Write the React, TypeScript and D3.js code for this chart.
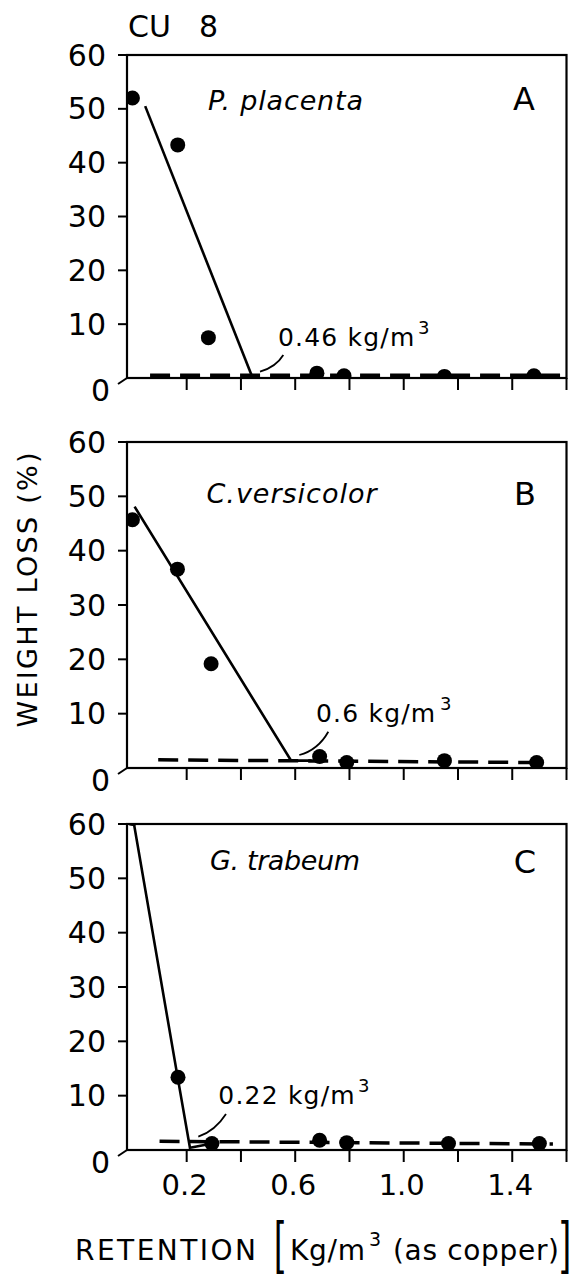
import React from 'react';
import * as d3 from 'd3';

// ---------- data ----------
const panelIds = ['A', 'B', 'C'];
const speciesNames = ['P. placenta', 'C.versicolor', 'G. trabeum'];
const thresholdLabels = ['0.46 kg/m', '0.6 kg/m', '0.22 kg/m'];

const yTicks = [0, 10, 20, 30, 40, 50, 60];
const xTicks = [0.2, 0.4, 0.6, 0.8, 1.0, 1.2, 1.4, 1.6];
const xTickLabelValues = [0.2, 0.6, 1.0, 1.4];
const xTickLabels = ['0.2', '0.6', '1.0', '1.4'];

const retentionA = [0, 0.167, 0.28, 0.68, 0.78, 1.15, 1.48];
const lossA = [52, 43.3, 7.5, 0.9, 0.4, 0.3, 0.4];
const retentionB = [0, 0.166, 0.29, 0.69, 0.79, 1.15, 1.49];
const lossB = [45.7, 36.6, 19.2, 2.1, 1.0, 1.35, 1.0];
const retentionC = [0, 0.168, 0.293, 0.69, 0.79, 1.165, 1.5];
const lossC = [61, 13.4, 1.2, 1.8, 1.35, 1.2, 1.2];

const fitRetentionA = [0.047, 0.44];
const fitLossA = [50.5, 0.4];
const fitRetentionB = [0.008, 0.585, 0.66];
const fitLossB = [48.1, 1.35, 1.35];
const fitRetentionC = [0.004, 0.168, 0.212, 0.275];
const fitLossC = [60.5, 13.0, 0.4, 1.0];

const dashRetentionA = [0.065, 1.6];
const dashLossA = [0.5, 0.5];
const dashRetentionB = [0.095, 1.52];
const dashLossB = [1.5, 1.0];
const dashRetentionC = [0.1, 1.55];
const dashLossC = [1.6, 1.1];

// ---------- layout ----------
const W = 573;
const H = 1277;
const LEFT = 127;
const RIGHT = 566.5;
const panelTops = [55, 442, 824];
const panelBottoms = [378, 768, 1150];
const speciesPos = [
  { x: 208, y: 110, w: 155 },
  { x: 206.5, y: 503, w: 170 },
  { x: 210, y: 870, w: 150 },
];
const letterPos = [
  { x: 524, y: 110 },
  { x: 525, y: 505 },
  { x: 525, y: 873 },
];
const annoPos = [
  { tx: 278, ty: 346, x0: 260, y0: 371.7, cx: 276, cy: 367, x1: 283.3, y1: 355, sup: 418 },
  { tx: 316, ty: 721.7, x0: 299.3, y0: 755, cx: 318, cy: 750, x1: 328.3, y1: 731.7, sup: 440 },
  { tx: 218.3, ty: 1104, x0: 198.3, y0: 1136.7, cx: 215, cy: 1131, x1: 226, y1: 1114, sup: 358 },
];

const FONT = 'DejaVu Sans';

const pointsSets = [
  [retentionA, lossA],
  [retentionB, lossB],
  [retentionC, lossC],
];
const fitSets = [
  [fitRetentionA, fitLossA],
  [fitRetentionB, fitLossB],
  [fitRetentionC, fitLossC],
];
const dashSets = [
  [dashRetentionA, dashLossA],
  [dashRetentionB, dashLossB],
  [dashRetentionC, dashLossC],
];

const x = d3.scaleLinear().domain([-0.02, 1.6]).range([LEFT, RIGHT]);

function zip(xs: number[], ys: number[]): [number, number][] {
  return xs.map((v, i) => [v, ys[i]] as [number, number]);
}

function Panel({ i }: { i: number }) {
  const top = panelTops[i];
  const bottom = panelBottoms[i];
  const y = d3.scaleLinear().domain([0, 60]).range([bottom, top]);
  const line = d3
    .line<[number, number]>()
    .x((d) => x(d[0]))
    .y((d) => y(d[1]));
  const [px, py] = pointsSets[i];
  const [fx, fy] = fitSets[i];
  const [dx, dy] = dashSets[i];
  const clipId = `clip-${panelIds[i]}`;
  const a = annoPos[i];
  const sp = speciesPos[i];
  const lp = letterPos[i];
  return (
    <g>
      <defs>
        <clipPath id={clipId}>
          <rect x={LEFT} y={top} width={RIGHT - LEFT} height={bottom - top} />
        </clipPath>
      </defs>
      {/* frame */}
      <rect x={LEFT} y={top} width={RIGHT - LEFT} height={bottom - top} fill="none" stroke="#000" strokeWidth={2.2} />
      {/* y ticks */}
      {yTicks.map((t) =>
        t === 0 ? (
          <line key={t} x1={LEFT} y1={y(t)} x2={LEFT - 9} y2={y(t) + 6} stroke="#000" strokeWidth={2} />
        ) : (
          <line key={t} x1={LEFT - 9} y1={y(t)} x2={LEFT} y2={y(t)} stroke="#000" strokeWidth={2} />
        )
      )}
      {yTicks.map((t) => (
        <text
          key={'l' + t}
          x={t === 0 ? 110 : 106}
          y={t === 0 ? y(t) + 12 : y(t)}
          textAnchor="end"
          dominantBaseline="central"
          fontFamily={FONT}
          fontSize={30}
        >
          {t}
        </text>
      ))}
      {/* x ticks */}
      {xTicks.map((t) => (
        <line key={'x' + t} x1={x(t)} y1={bottom} x2={x(t)} y2={bottom + 12} stroke="#000" strokeWidth={2} />
      ))}
      {i === 2 &&
        xTickLabelValues.map((t, k) => (
          <text key={'xl' + t} x={x(t) - 2} y={bottom + 45} textAnchor="middle" fontFamily={FONT} fontSize={29}>
            {xTickLabels[k]}
          </text>
        ))}
      <g clipPath={`url(#${clipId})`}>
        <path d={line(zip(dx, dy)) || ''} fill="none" stroke="#000" strokeWidth={3.5} strokeDasharray="20 10" />
        <path d={line(zip(fx, fy)) || ''} fill="none" stroke="#000" strokeWidth={2.6} />
        {px.map((v, k) => (
          <circle key={k} cx={x(v)} cy={y(py[k])} r={7.5} fill="#000" />
        ))}
      </g>
      {/* labels */}
      <text
        x={sp.x}
        y={sp.y}
        fontFamily={FONT}
        fontStyle="italic"
        fontSize={27}
        textLength={sp.w}
        lengthAdjust="spacing"
      >
        {speciesNames[i]}
      </text>
      <text x={lp.x} y={lp.y} textAnchor="middle" fontFamily={FONT} fontSize={32}>
        {panelIds[i]}
      </text>
      {/* threshold annotation */}
      <path d={`M${a.x0},${a.y0} Q${a.cx},${a.cy} ${a.x1},${a.y1}`} fill="none" stroke="#000" strokeWidth={1.8} />
      <text x={a.tx} y={a.ty} fontFamily={FONT} fontSize={25} letterSpacing={1.2}>
        {thresholdLabels[i]}
        <tspan x={a.sup} dy={-12} fontSize={18} letterSpacing={0}>
          3
        </tspan>
      </text>
    </g>
  );
}

export default function App() {
  return (
    <svg
      width={W}
      height={H}
      viewBox={`0 0 ${W} ${H}`}
      style={{ position: 'absolute', left: 0, top: 0, background: '#fff' }}
    >
      <rect x={0} y={0} width={W} height={H} fill="#fff" />
      <text x={128} y={37} fontFamily={FONT} fontSize={30} wordSpacing={18.5}>
        CU 8
      </text>
      {panelIds.map((id, i) => (
        <Panel key={id} i={i} />
      ))}
      <text
        transform="translate(37,590) rotate(-90)"
        textAnchor="middle"
        fontFamily={FONT}
        fontSize={27}
        textLength={275}
        lengthAdjust="spacing"
      >
        WEIGHT LOSS (%)
      </text>
      <text y={1260} fontFamily={FONT} fontSize={28}>
        <tspan x={75} textLength={181} lengthAdjust="spacing">
          RETENTION
        </tspan>
        <tspan x={290} textLength={75} lengthAdjust="spacing">
          Kg/m
        </tspan>
        <tspan x={369} dy={-14} fontSize={19}>
          3
        </tspan>
        <tspan x={393} dy={14} textLength={166} lengthAdjust="spacing">
          (as copper)
        </tspan>
      </text>
      <text transform="translate(274,1262) scale(1,1.6)" fontFamily="Liberation Sans" fontSize={36}>
        [
      </text>
      <text transform="translate(561,1262) scale(1,1.6)" fontFamily="Liberation Sans" fontSize={36}>
        ]
      </text>
    </svg>
  );
}
